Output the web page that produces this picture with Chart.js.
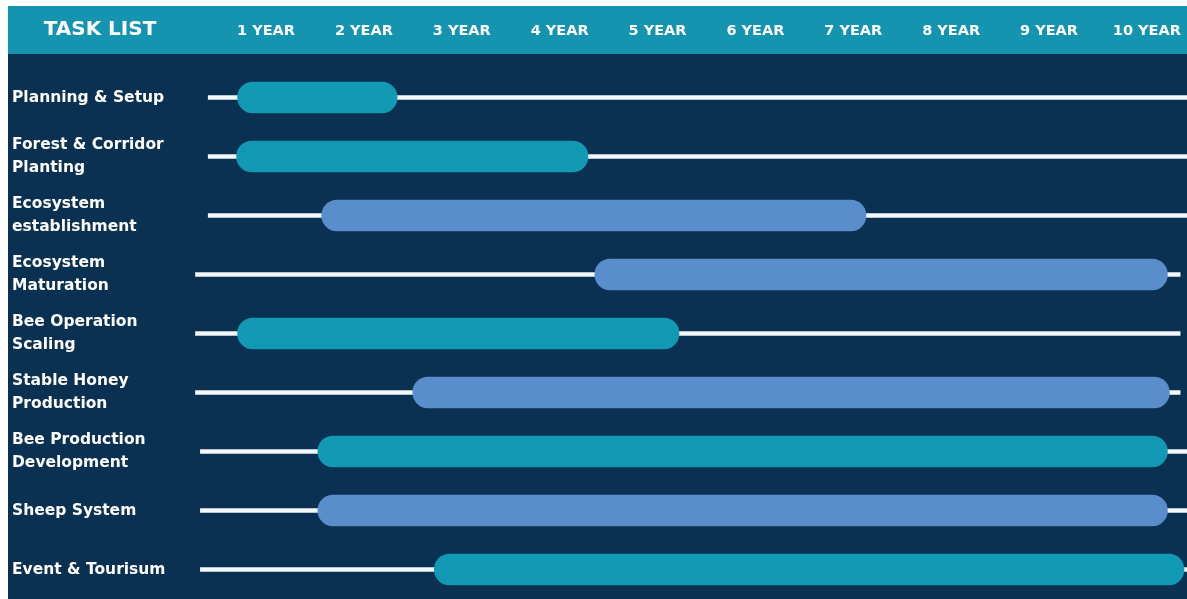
<!DOCTYPE html>
<html>
<head>
<meta charset="utf-8">
<script src="https://cdn.jsdelivr.net/npm/chart.js@4.4.1/dist/chart.umd.min.js"></script>
<style>
  html, body { margin: 0; padding: 0; background: #ffffff; overflow: hidden; }
  #wrap { width: 1187px; height: 599px; position: relative; }
</style>
</head>
<body>
<div id="wrap"><canvas id="gantt"></canvas></div>
<script>
// tarefas (rótulos em várias linhas)
var tarefas = [
    ['Planning & Setup'],
    ['Forest & Corridor', 'Planting'],
    ['Ecosystem', 'establishment'],
    ['Ecosystem', 'Maturation'],
    ['Bee Operation', 'Scaling'],
    ['Stable Honey', 'Production'],
    ['Bee Production', 'Development'],
    ['Sheep System'],
    ['Event & Tourisum']
];

// anos do cabeçalho
var anos = [1, 2, 3, 4, 5, 6, 7, 8, 9, 10];
var anosLabels = ['1 YEAR', '2 YEAR', '3 YEAR', '4 YEAR', '5 YEAR', '6 YEAR', '7 YEAR', '8 YEAR', '9 YEAR', '10 YEAR'];

// inicio / fim de cada tarefa (em anos)
var inicio = [0.71, 0.70, 1.57, 4.36, 0.71, 2.50, 1.53, 1.53, 2.72];
var fim    = [2.34, 4.29, 7.13, 10.21, 5.22, 10.23, 10.21, 10.21, 10.38];

// trilha branca atras das barras
var trilhaInicio = [0.41, 0.41, 0.41, 0.28, 0.28, 0.28, 0.33, 0.33, 0.33];
var trilhaFim    = [10.41, 10.41, 10.41, 10.34, 10.34, 10.34, 10.41, 10.41, 10.41];

var eixoMin = 0.275;
var eixoMax = 10.41;

// cores
var corFundo = '#0a3152';
var corCabecalho = '#1594af';
var corTeal = '#129ab5';
var corAzul = '#5a8dcb';
var coresBarras = [corTeal, corTeal, corAzul, corAzul, corTeal, corAzul, corTeal, corAzul, corTeal];

var fonte = "'DejaVu Sans', 'Open Sans', sans-serif";

var fundoPlugin = {
    id: 'fundo',
    beforeDraw: function (chart) {
        var ctx = chart.ctx;
        var w = chart.width, h = chart.height;
        ctx.save();
        ctx.fillStyle = '#ffffff';
        ctx.fillRect(0, 0, w, h);
        ctx.fillStyle = corFundo;
        ctx.fillRect(8, 54, w - 8, h - 54);
        ctx.fillStyle = corCabecalho;
        ctx.fillRect(8, 6, w - 8, 48);
        ctx.fillStyle = '#ffffff';
        ctx.font = "bold 20px " + fonte;
        ctx.textAlign = 'center';
        ctx.textBaseline = 'middle';
        ctx.fillText('TASK LIST', 100, 30);
        ctx.restore();
    }
};

var _dadosTarefas = inicio.map(function (v, i) { return [v, fim[i]]; });
var _dadosTrilha = trilhaInicio.map(function (v, i) { return [v, trilhaFim[i]]; });

new Chart(document.getElementById('gantt'), {
    type: 'bar',
    data: {
        labels: tarefas,
        datasets: [
            {
                label: 'Tarefas',
                data: _dadosTarefas,
                backgroundColor: coresBarras,
                barThickness: 31,
                borderRadius: 16,
                borderSkipped: false,
                grouped: false,
                order: 0
            },
            {
                label: 'Trilha',
                data: _dadosTrilha,
                backgroundColor: '#f2f8fc',
                barThickness: 4,
                borderSkipped: false,
                grouped: false,
                order: 1
            }
        ]
    },
    options: {
        indexAxis: 'y',
        responsive: true,
        maintainAspectRatio: false,
        animation: false,
        layout: { padding: { left: 12, right: 0, top: 0, bottom: 0 } },
        plugins: {
            legend: { display: false },
            tooltip: { enabled: false }
        },
        scales: {
            x: {
                type: 'linear',
                position: 'top',
                min: eixoMin,
                max: eixoMax,
                grid: { display: false, drawTicks: false },
                border: { display: false },
                afterBuildTicks: function (s) {
                    s.ticks = anos.map(function (a) { return { value: a }; });
                },
                afterFit: function (s) {
                    s.height = 68;
                    s.paddingLeft = 0;
                    s.paddingRight = 0;
                },
                ticks: {
                    color: '#ffffff',
                    padding: 28,
                    maxRotation: 0,
                    autoSkip: false,
                    font: { family: fonte, size: 14.5, weight: 'bold' },
                    callback: function (v) {
                        var i = anos.indexOf(v);
                        return i >= 0 ? anosLabels[i] : '';
                    }
                }
            },
            y: {
                type: 'category',
                grid: { display: false, drawTicks: false },
                border: { display: false },
                afterFit: function (s) {
                    s.width = 183;
                    s.paddingTop = 0;
                    s.paddingBottom = 0;
                },
                ticks: {
                    color: '#ffffff',
                    crossAlign: 'far',
                    padding: 0,
                    font: { family: fonte, size: 15.5, weight: 'bold', lineHeight: 1.45 }
                }
            }
        }
    },
    plugins: [fundoPlugin]
});
</script>
</body>
</html>
